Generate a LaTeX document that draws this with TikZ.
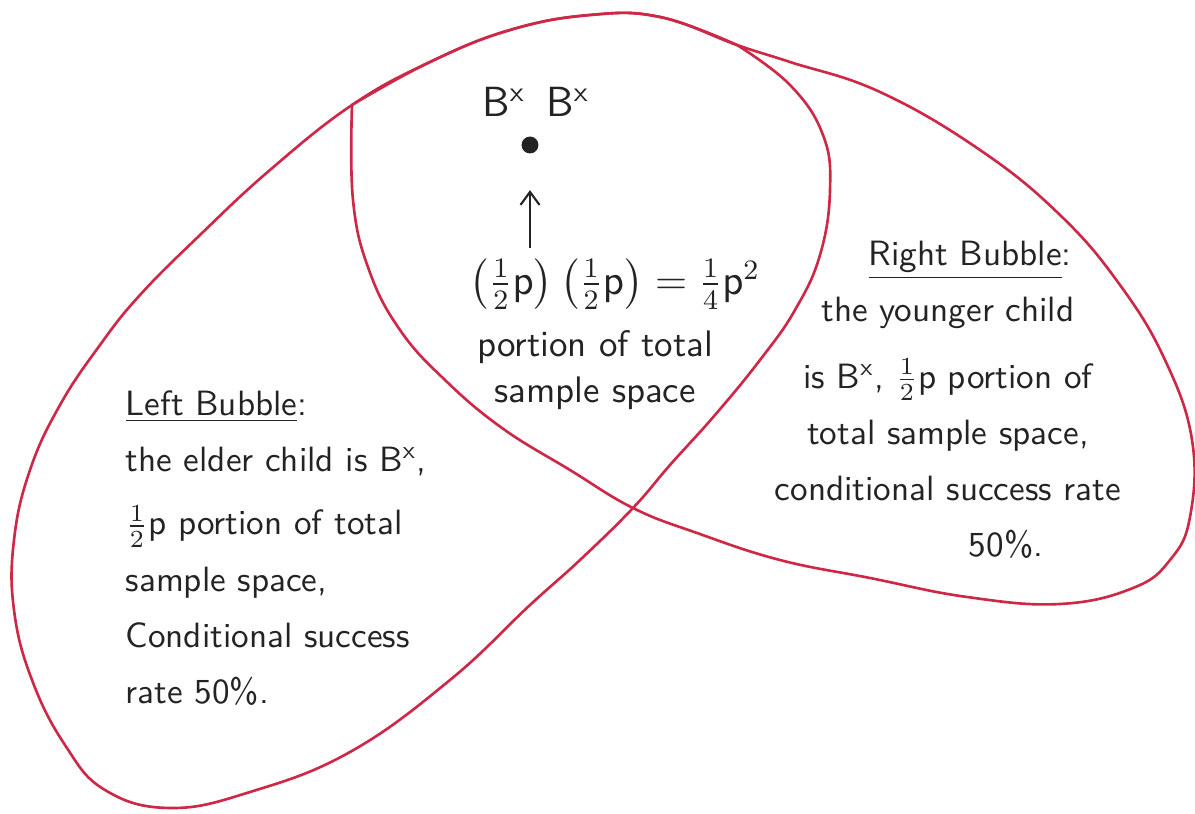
\documentclass[tikz,border=0pt]{standalone}
\usepackage{amsmath}
\usetikzlibrary{arrows.meta,positioning}
\definecolor{bubblered}{RGB}{205,40,70}
\definecolor{ink}{RGB}{35,35,35}
\newcommand{\Bx}{B\textsuperscript{x}}
\newcommand{\pp}{\mathsf{p}}

\begin{document}
\begin{tikzpicture}[
  bubble/.style={draw=bubblered, line width=0.75pt, line join=round},
  hand/.style={text=ink, font=\sffamily\fontsize{10}{16}\selectfont, inner sep=0pt},
  arr/.style={-{Straight Barb[length=1.3mm, width=1.9mm]}, draw=ink, line width=0.6pt}
]
\useasboundingbox (0,0) rectangle (11.95,8.14);
\coordinate (jl) at (3.52,7.09);
\coordinate (jr) at (7.37,7.69);
\coordinate (cross) at (6.33,3.06);
% right bubble, leaves the top edge at jl
\draw[bubble] plot[smooth, tension=0.7] coordinates {(jl) (3.53,6.14) (3.69,5.44)
  (4.00,4.84) (4.45,4.34) (5.02,3.86) (5.70,3.44) (cross) (6.97,2.81) (7.80,2.54)
  (8.70,2.36) (9.67,2.17) (10.60,2.10) (11.33,2.26) (11.70,2.54) (11.90,2.97)
  (11.92,3.74) (11.65,4.54) (11.20,5.29) (10.60,5.99) (9.80,6.64) (8.80,7.22)
  (7.90,7.52) (jr) (6.60,7.97) (5.90,7.99) (5.10,7.84) (4.30,7.52) (jl)};
% left bubble, leaves the top edge at jr
\draw[bubble] plot[smooth, tension=0.7] coordinates {(jr) (7.90,7.29) (8.23,6.79)
  (8.30,6.24) (8.20,5.59) (7.95,5.04) (7.60,4.54) (7.15,3.99) (6.70,3.49) (cross)
  (5.80,2.54) (5.30,2.09) (4.50,1.34) (3.50,0.62) (2.50,0.22) (1.70,0.06)
  (1.05,0.24) (0.65,0.69) (0.32,1.34) (0.14,2.04) (0.14,2.74) (0.30,3.44)
  (0.60,4.09) (1.00,4.69) (1.40,5.19) (2.00,5.79) (2.70,6.44) (jl) (4.30,7.52)
  (5.10,7.84) (5.90,7.99) (6.60,7.97) (jr)};

% overlap
\node[hand, font=\sffamily\large] (pair) at (5.36,7.12) {\Bx\enspace\Bx};
\node[circle, fill=ink, inner sep=1.7pt] (dot) at (5.30,6.69) {};
\node[hand, font=\sffamily\large] (prod) at (6.15,5.30)
  {$\left(\frac{1}{2}\pp\right)\left(\frac{1}{2}\pp\right)=\frac{1}{4}\pp^2$};
\node[hand, align=center, font=\sffamily\fontsize{10.5}{13}\selectfont,
  below=2mm of prod, xshift=-2mm] (portion) {portion of total\\ sample space};
\draw[arr, shorten <=1mm, shorten >=3.6mm] (prod.north -| dot) -- (dot.south);

% left text
\node[hand, align=left, anchor=north west] (lefttxt) at (1.25,4.24)
  {\underline{Left Bubble}:\\
   the elder child is \Bx,\\[2pt]
   $\frac{1}{2}\pp$ portion of total\\
   sample space,\\
   Conditional success\\
   rate 50\%.};

% right text
\node[hand, align=center, anchor=north] (righttxt) at (9.48,5.74)
  {\hspace*{4.4mm}\underline{Right Bubble}:\\
   the younger child\\[3pt]
   is \Bx, $\frac{1}{2}\pp$ portion of\\
   total sample space,\\
   conditional success rate\\
   \hspace*{11.6mm}50\%.};
\end{tikzpicture}
\end{document}
